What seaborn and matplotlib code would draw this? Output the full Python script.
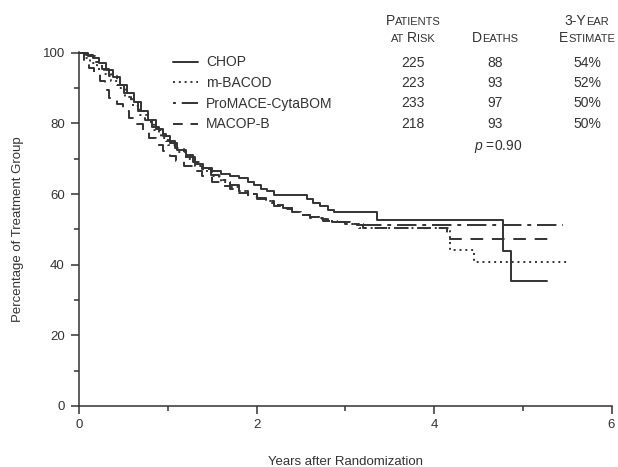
import matplotlib
matplotlib.use("Agg")
import matplotlib.pyplot as plt
import seaborn as sns
import pandas as pd
from matplotlib.ticker import MultipleLocator

# ---------------- data ----------------
chop_t = [0, 0.08, 0.15, 0.22, 0.30, 0.38, 0.46, 0.54, 0.62, 0.70, 0.78, 0.86, 0.94, 1.02,
          1.10, 1.20, 1.30, 1.40, 1.50, 1.60, 1.70, 1.80, 1.90, 1.97, 2.05, 2.12, 2.19,
          2.57, 2.64, 2.71, 2.80, 2.87, 3.36, 4.78, 4.87, 5.27]
chop_s = [100, 99.5, 98.5, 97, 95, 93, 91, 88.5, 86, 83.5, 81, 78.5, 76.5, 74.5,
          72.5, 70.5, 68.5, 67.5, 66.5, 65.8, 65, 64.5, 63.5, 62.5, 61.5, 60.8, 59.8,
          58.5, 57.5, 56.5, 55.5, 54.8, 52.7, 44, 35.5, 35.5]

mbacod_t = [0, 0.05, 0.12, 0.20, 0.28, 0.36, 0.44, 0.52, 0.60, 0.68, 0.76, 0.84, 0.92, 1.00,
            1.10, 1.20, 1.30, 1.40, 1.50, 1.60, 1.70, 1.80, 1.90, 2.00, 2.10, 2.20, 2.30,
            2.40, 2.50, 2.60, 2.70, 2.80, 2.90, 3.00, 3.15, 4.18, 4.45, 5.52]
mbacod_s = [100, 98.5, 97, 95.5, 94, 92, 90, 87.5, 85, 82.5, 80.5, 78, 76, 74,
            72, 70, 68, 66.5, 65, 63.5, 62, 61, 60, 59, 58, 57, 56,
            55, 54, 53.5, 53, 52.5, 52, 51.5, 50.5, 44.3, 40.7, 40.7]

promace_t = [0, 0.10, 0.18, 0.26, 0.34, 0.42, 0.50, 0.58, 0.66, 0.74, 0.82, 0.90, 0.98, 1.08,
             1.18, 1.28, 1.38, 1.48, 1.58, 1.70, 1.80, 1.90, 2.00, 2.10, 2.20, 2.30, 2.40,
             2.50, 2.60, 2.70, 2.85, 3.00, 3.20, 5.45]
promace_s = [100, 99, 97.5, 95.5, 93.5, 91, 88.5, 86, 83.5, 81, 79, 77, 75, 73,
             71, 69, 67, 65.5, 64, 62.5, 61, 60, 59, 58, 57, 56, 55,
             54, 53.5, 53, 52, 51.5, 51.1, 51.1]

macopb_t = [0, 0.05, 0.11, 0.17, 0.23, 0.29, 0.34, 0.42, 0.49, 0.56, 0.64, 0.72, 0.79, 0.86,
            0.94, 1.02, 1.09, 1.18, 1.28, 1.38, 1.50, 1.60, 1.70, 1.80, 1.90, 2.00, 2.10,
            2.20, 2.30, 2.40, 2.50, 2.60, 2.75, 2.90, 3.05, 3.20, 4.15, 5.37]
macopb_s = [100, 98, 95.8, 94, 92, 89.5, 87.3, 85.5, 83.5, 81.5, 79.8, 77.8, 76, 74,
            72.2, 70.8, 69.4, 68, 66.5, 65, 63.5, 62.3, 61.3, 60.3, 59.3, 58.5, 57.5,
            56.5, 55.7, 55, 54, 53.3, 52.5, 52, 51.3, 50.3, 47.3, 47.3]

regimens = ["CHOP", "m-BACOD", "ProMACE-CytaBOM", "MACOP-B"]
patients_at_risk = ["225", "223", "233", "218"]
deaths = ["88", "93", "97", "93"]
three_year = ["54%", "52%", "50%", "50%"]
p_value = "0.90"

x_ticks = [0, 2, 4, 6]
y_ticks = [0, 20, 40, 60, 80, 100]

# ---------------- style ----------------
sns.set_theme(style="ticks")
INK = "#333333"
plt.rcParams["font.family"] = ["Liberation Sans", "DejaVu Sans"]
plt.rcParams["mathtext.fontset"] = "custom"
plt.rcParams["mathtext.it"] = "Liberation Sans:italic"
plt.rcParams["mathtext.rm"] = "Liberation Sans"

W, H = 618, 467
fig = plt.figure(figsize=(W / 100, H / 100), dpi=100)
ax = fig.add_axes([79.3 / W, 1 - 406 / H, (611.5 - 79.3) / W, (406 - 51.7) / H])

frames = []
for name, t, s in [("CHOP", chop_t, chop_s), ("m-BACOD", mbacod_t, mbacod_s),
                   ("ProMACE-CytaBOM", promace_t, promace_s), ("MACOP-B", macopb_t, macopb_s)]:
    frames.append(pd.DataFrame({"Years": t, "Pct": s, "Regimen": name}))
df = pd.concat(frames, ignore_index=True)

dashes = {"CHOP": "", "m-BACOD": (1, 2), "ProMACE-CytaBOM": (10, 3, 2, 3), "MACOP-B": (6.5, 4.5)}
sns.lineplot(data=df, x="Years", y="Pct", hue="Regimen", style="Regimen",
             hue_order=regimens, style_order=regimens,
             palette={r: INK for r in regimens}, dashes=dashes,
             estimator=None, sort=False, drawstyle="steps-post", lw=1.4,
             legend=False, ax=ax)

ax.set_xlim(0, 6)
ax.set_ylim(0, 100.3)
ax.set_xticks(x_ticks)
ax.set_yticks(y_ticks)
ax.xaxis.set_minor_locator(MultipleLocator(1))
ax.yaxis.set_minor_locator(MultipleLocator(10))
for sp in ["top", "right"]:
    ax.spines[sp].set_visible(False)
for sp in ["left", "bottom"]:
    ax.spines[sp].set_color(INK)
    ax.spines[sp].set_linewidth(1.1)
ax.tick_params(which="major", length=6, width=1.1, color=INK, labelcolor=INK,
               labelsize=9.5, direction="out")
ax.tick_params(axis="y", which="major", pad=4.5)
ax.tick_params(axis="x", which="major", pad=3)
ax.tick_params(which="minor", length=3.5, width=1.1, color=INK, direction="out")

ax.set_xlabel("Years after Randomization", fontsize=9.5, color=INK)
ax.xaxis.set_label_coords(0.5, (406 - 462) / (406 - 51.7))
ax.xaxis.label.set_va("center")
ax.set_ylabel("Percentage of Treatment Group", fontsize=9.5, color=INK)
ax.yaxis.set_label_coords((18 - 79.3) / (611.5 - 79.3), 0.5)
ax.yaxis.label.set_va("center")

# legend
handles = ax.get_lines()[:4]
leg = ax.legend(handles, regimens, loc="upper left", frameon=False,
                bbox_to_anchor=(173 / W, 1 - 55.5 / H), bbox_transform=fig.transFigure,
                fontsize=10, handlelength=1.8, handletextpad=0.6, labelspacing=0.48,
                borderpad=0, borderaxespad=0)
for txt in leg.get_texts():
    txt.set_color(INK)
leg.legend_handles[2].set_linestyle((0, (1.5, 3, 10, 3)))
leg.legend_handles[3].set_linestyle((0, (5, 4)))

# table text (pixel coordinates)
renderer = fig.canvas.get_renderer()

def pix_text(x, y_img, s, size=10, ha="center", **kw):
    return fig.text(x / W, 1 - y_img / H, s, fontsize=size, ha=ha, va="baseline",
                    color=INK, **kw)

def small_caps(xc, y_img, parts, big=10, small=8):
    items = []
    total = 0
    for s, b in parts:
        if s == " ":
            items.append((None, 3.0))
            total += 3.0
            continue
        t = fig.text(0, 0, s, fontsize=big if b else small, color=INK, va="baseline", ha="left")
        w = t.get_window_extent(renderer).width
        items.append((t, w))
        total += w
    x = xc - total / 2
    for t, w in items:
        if t is not None:
            t.set_position((x / W, 1 - y_img / H))
        x += w

col_x = [413, 495, 587]
small_caps(col_x[0], 25, [("P", True), ("ATIENTS", False)])
small_caps(col_x[0], 41.7, [("AT", False), (" ", False), ("R", True), ("ISK", False)])
small_caps(col_x[1], 41.7, [("D", True), ("EATHS", False)])
small_caps(col_x[2], 25, [("3-Y", True), ("EAR", False)])
small_caps(col_x[2], 41.7, [("E", True), ("STIMATE", False)])

row_base = [66.7, 86.7, 106.9, 128]
for i in range(4):
    pix_text(col_x[0], row_base[i], patients_at_risk[i])
    pix_text(col_x[1], row_base[i], deaths[i])
    pix_text(col_x[2], row_base[i], three_year[i])
pix_text(498, 150, r"$p$ =" + p_value)

fig.savefig("out.png", dpi=100)
